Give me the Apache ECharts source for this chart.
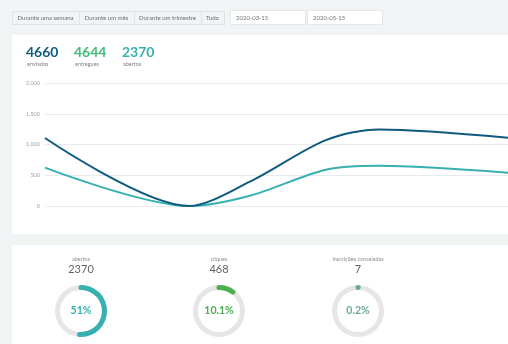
<!DOCTYPE html>
<html>
<head>
<meta charset="utf-8">
<script src="https://cdn.jsdelivr.net/npm/echarts@6/dist/echarts.min.js"></script>
<style>
  html, body { margin: 0; padding: 0; background: #f0f4f5; }
  #main { width: 508px; height: 344px; }
</style>
</head>
<body>
<div id="main"></div>
<script>
// Period filter buttons and date range
const periodButtons = ['Durante uma semana', 'Durante um mês', 'Durante um trimestre', 'Tudo'];
const dateRange = ['2020-03-15', '2020-05-15'];

// Summary totals
const totalLabels = ['enviados', 'entregues', 'abertos'];
const totalValues = [4660, 4644, 2370];

// Time series
const sampleDates = ['2020-03-15', '2020-04-03', '2020-04-11', '2020-04-21', '2020-04-28', '2020-05-15'];
const sentSeries = [1105, 0, 395, 1070, 1245, 1111];
const openedSeries = [623, 0, 168, 590, 655, 541];
const yTicks = [0, 500, 1000, 1500, 2000];

// Rate gauges
const gaugeTitles = ['abertos', 'cliques', 'inscrições canceladas'];
const gaugeCounts = [2370, 468, 7];
const gaugeRates = [51, 10.1, 0.2];

const FONT = 'Lato, "Open Sans", sans-serif';
const C_DARK = '#0f5a7f';
const C_GREEN = '#3dbb78';
const C_TEAL = '#36b0b0';
const gaugeColors = ['#36b0b0', '#4caf50', '#6fa89c'];

const chart = echarts.init(document.getElementById('main'));

const graphics = [];
// Panels
graphics.push({ type: 'rect', shape: { x: 12, y: 35, width: 496, height: 199 }, style: { fill: '#ffffff' }, silent: true });
graphics.push({ type: 'rect', shape: { x: 12, y: 245, width: 496, height: 99 }, style: { fill: '#ffffff' }, silent: true });

// Button group
const btnEdges = [12, 79, 134, 201, 224];
for (let i = 0; i < periodButtons.length; i++) {
  const x0 = btnEdges[i], x1 = btnEdges[i + 1];
  graphics.push({ type: 'rect', shape: { x: x0 + 0.5, y: 11.5, width: x1 - x0, height: 13 },
    style: { fill: '#f1f4f5', stroke: '#dfe3e5', lineWidth: 1 }, silent: true });
  graphics.push({ type: 'text', x: (x0 + x1) / 2, y: 18, style: { text: periodButtons[i],
    fontFamily: FONT, fontSize: 6, fill: '#6a6f73', align: 'center', verticalAlign: 'middle' }, silent: true });
}
// Date inputs
const dateBoxes = [[230, 305], [307, 382]];
dateRange.forEach((d, i) => {
  const [x0, x1] = dateBoxes[i];
  graphics.push({ type: 'rect', shape: { x: x0 + 0.5, y: 10.5, width: x1 - x0, height: 14 },
    style: { fill: '#ffffff', stroke: '#e4e7e8', lineWidth: 1 }, silent: true });
  graphics.push({ type: 'text', x: x0 + 6, y: 18, style: { text: d,
    fontFamily: FONT, fontSize: 6, fill: '#707579', align: 'left', verticalAlign: 'middle' }, silent: true });
});

// Totals
const totalX = [26, 74, 122];
const totalColors = [C_DARK, C_GREEN, C_TEAL];
totalValues.forEach((v, i) => {
  graphics.push({ type: 'text', x: totalX[i], y: 52, style: { text: String(v),
    fontFamily: FONT, fontSize: 14, fontWeight: 'bold', fill: totalColors[i], align: 'left', verticalAlign: 'middle' }, silent: true });
  graphics.push({ type: 'text', x: totalX[i] + 1, y: 64, style: { text: totalLabels[i],
    fontFamily: FONT, fontSize: 5.5, fill: '#7d8185', align: 'left', verticalAlign: 'middle' }, silent: true });
});

// Gauge titles and counts
const gaugeX = [81, 219, 358];
gaugeTitles.forEach((t, i) => {
  graphics.push({ type: 'text', x: gaugeX[i], y: 259, style: { text: t,
    fontFamily: FONT, fontSize: 5.5, fill: '#8a8e92', align: 'center', verticalAlign: 'middle' }, silent: true });
  graphics.push({ type: 'text', x: gaugeX[i], y: 269, style: { text: String(gaugeCounts[i]),
    fontFamily: FONT, fontSize: 11, fill: '#5f6368', align: 'center', verticalAlign: 'middle' }, silent: true });
});

const gaugeSeries = gaugeRates.map((r, i) => ({
  type: 'gauge',
  center: [gaugeX[i], 311],
  radius: 26,
  startAngle: 90,
  endAngle: -270,
  min: 0,
  max: 100,
  pointer: { show: false },
  progress: { show: true, roundCap: true, width: 5, itemStyle: { color: gaugeColors[i] } },
  axisLine: { lineStyle: { width: 5, color: [[1, '#e6e6e6']] } },
  splitLine: { show: false },
  axisTick: { show: false },
  axisLabel: { show: false },
  title: { show: false },
  detail: {
    valueAnimation: false,
    offsetCenter: [0, 0],
    fontFamily: FONT,
    fontSize: 10.5,
    color: gaugeColors[i],
    formatter: v => v + '%'
  },
  animation: false,
  data: [{ value: r }]
}));

const toPairs = vals => vals.map((v, i) => [sampleDates[i], v]);

chart.setOption({
  animation: false,
  textStyle: { fontFamily: FONT },
  graphic: graphics,
  grid: { left: 45, right: 0, top: 83, bottom: 138 },
  xAxis: {
    type: 'time',
    min: dateRange[0],
    max: dateRange[1],
    axisLine: { show: false },
    axisTick: { show: false },
    axisLabel: { show: false },
    splitLine: { show: false }
  },
  yAxis: {
    type: 'value',
    min: yTicks[0],
    max: yTicks[yTicks.length - 1],
    interval: 500,
    axisLine: { show: false },
    axisTick: { show: false },
    axisLabel: { fontSize: 5.5, color: '#9a9ea2', margin: 5,
      formatter: v => v.toLocaleString('en-US') },
    splitLine: { lineStyle: { color: '#e8eaeb', width: 1 } }
  },
  series: [
    { name: 'enviados', type: 'line', data: toPairs(sentSeries), smooth: 0.3, symbol: 'none',
      lineStyle: { color: C_DARK, width: 2 }, z: 3 },
    { name: 'abertos', type: 'line', data: toPairs(openedSeries), smooth: 0.3, symbol: 'none',
      lineStyle: { color: C_TEAL, width: 2 }, z: 2 },
    ...gaugeSeries
  ]
});
</script>
</body>
</html>
